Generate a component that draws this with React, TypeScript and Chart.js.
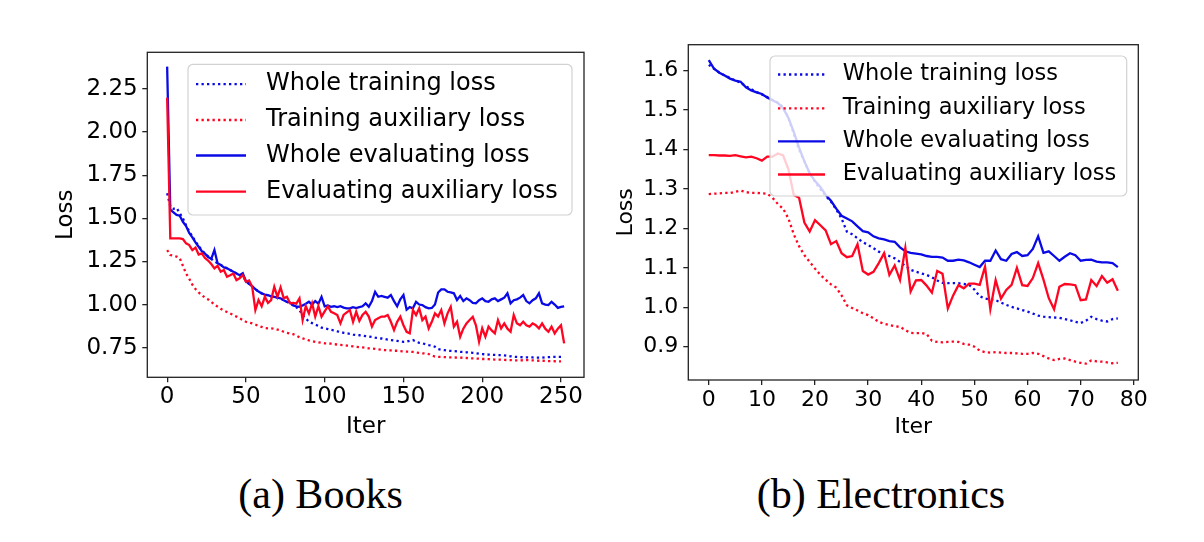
import React, { useEffect, useRef } from "react";
import { Chart, registerables } from "chart.js";

Chart.register(...registerables);
Chart.defaults.font.family = "'DejaVu Sans', sans-serif";

const BLUE = "#0a0ae6";
const RED = "#ff0522";
const AXIS = "#222222";

const seriesLabels = [
  "Whole training loss",
  "Training auxiliary loss",
  "Whole evaluating loss",
  "Evaluating auxiliary loss",
];

// ---- (a) Books: evaluation logged every 2 iters up to 252, training up to 250
const booksEvalIter = Array.from({ length: 127 }, (_, k) => k * 2);
const booksTrainIter = Array.from({ length: 126 }, (_, k) => k * 2);

const booksTrainWhole = [
  1.645, 1.57, 1.555, 1.56, 1.53, 1.5, 1.46, 1.425, 1.395, 1.365,
  1.34, 1.315, 1.295, 1.28, 1.265, 1.25, 1.24, 1.23, 1.22, 1.21,
  1.2, 1.19, 1.18, 1.17, 1.16, 1.14, 1.12, 1.105, 1.09, 1.075,
  1.065, 1.058, 1.052, 1.048, 1.044, 1.04, 1.035, 1.025, 1.015, 1.008,
  0.995, 0.985, 0.968, 0.939, 0.92, 0.9, 0.892, 0.884, 0.876, 0.866,
  0.862, 0.858, 0.853, 0.85, 0.845, 0.842, 0.836, 0.833, 0.83, 0.826,
  0.823, 0.822, 0.82, 0.817, 0.815, 0.812, 0.808, 0.806, 0.803, 0.8,
  0.796, 0.794, 0.792, 0.789, 0.786, 0.784, 0.785, 0.79, 0.794, 0.785,
  0.778, 0.775, 0.77, 0.765, 0.762, 0.755, 0.742, 0.738, 0.735, 0.732,
  0.731, 0.73, 0.728, 0.726, 0.725, 0.723, 0.721, 0.72, 0.718, 0.715,
  0.713, 0.711, 0.71, 0.709, 0.708, 0.707, 0.707, 0.705, 0.703, 0.7,
  0.697, 0.696, 0.695, 0.694, 0.694, 0.693, 0.693, 0.692, 0.692, 0.692,
  0.694, 0.695, 0.696, 0.697, 0.697, 0.697,
];

const booksTrainAux = [
  1.316, 1.287, 1.283, 1.278, 1.268, 1.225, 1.18, 1.15, 1.115, 1.09,
  1.07, 1.055, 1.04, 1.03, 1.015, 1.0, 0.988, 0.975, 0.965, 0.957,
  0.948, 0.939, 0.93, 0.92, 0.91, 0.9, 0.895, 0.891, 0.884, 0.876,
  0.87, 0.864, 0.862, 0.862, 0.86, 0.855, 0.85, 0.842, 0.836, 0.832,
  0.828, 0.82, 0.81, 0.804, 0.798, 0.792, 0.788, 0.784, 0.781, 0.778,
  0.775, 0.775, 0.773, 0.77, 0.768, 0.766, 0.764, 0.762, 0.76, 0.757,
  0.755, 0.753, 0.751, 0.749, 0.746, 0.745, 0.743, 0.74, 0.738, 0.736,
  0.735, 0.734, 0.732, 0.732, 0.73, 0.728, 0.727, 0.726, 0.725, 0.722,
  0.72, 0.717, 0.716, 0.713, 0.705, 0.698, 0.697, 0.696, 0.695, 0.694,
  0.693, 0.693, 0.692, 0.692, 0.691, 0.69, 0.688, 0.688, 0.687, 0.686,
  0.684, 0.684, 0.683, 0.682, 0.681, 0.68, 0.68, 0.679, 0.678, 0.678,
  0.677, 0.676, 0.676, 0.677, 0.678, 0.677, 0.676, 0.675, 0.674, 0.674,
  0.673, 0.672, 0.672, 0.671, 0.671, 0.67,
];

const booksEvalWhole = [
  2.38, 1.55, 1.535, 1.52, 1.515, 1.48, 1.455, 1.415, 1.39, 1.36,
  1.335, 1.31, 1.295, 1.275, 1.265, 1.316, 1.24, 1.23, 1.215, 1.21,
  1.2, 1.19, 1.18, 1.17, 1.182, 1.135, 1.12, 1.105, 1.09, 1.075,
  1.065, 1.058, 1.055, 1.048, 1.045, 1.04, 1.036, 1.025, 1.016, 1.012,
  0.995, 0.99, 0.987, 0.995, 1.005, 1.016, 1.0, 1.02, 1.005, 1.045,
  0.99, 0.995, 0.987, 0.99, 0.985, 0.99, 0.982, 0.978, 0.978, 0.985,
  0.98, 0.985, 0.99, 1.007, 0.987, 1.02, 1.074, 1.045, 1.05, 1.045,
  1.04, 1.055, 1.02, 0.99, 1.03, 1.055, 0.97, 0.985, 0.978, 1.016,
  1.0, 0.997, 0.985, 0.978, 0.98, 1.0, 1.07, 1.088, 1.088, 1.074,
  1.07, 1.065, 1.026, 1.05, 1.02, 1.036, 1.025, 1.01, 1.007, 1.025,
  1.036, 1.02, 1.016, 1.03, 1.036, 1.02, 1.03, 1.04, 1.065, 1.007,
  1.025, 1.03, 1.04, 1.055, 1.02, 1.007, 1.025, 1.036, 1.065, 1.007,
  1.0, 0.997, 1.016, 1.0, 0.981, 0.987, 0.99,
];

const booksEvalAux = [
  2.2, 1.384, 1.384, 1.384, 1.384, 1.38, 1.355, 1.345, 1.316, 1.33,
  1.29, 1.297, 1.27, 1.255, 1.235, 1.21, 1.225, 1.19, 1.2, 1.161,
  1.17, 1.18, 1.142, 1.152, 1.171, 1.132, 1.14, 1.103, 0.968, 1.026,
  0.99, 1.045, 1.01, 1.026, 1.103, 1.045, 1.1, 1.036, 1.045, 1.007,
  1.01, 1.005, 1.036, 0.91, 0.99, 0.948, 1.007, 0.93, 0.99, 0.93,
  0.96, 0.99, 0.958, 0.95, 0.939, 0.891, 0.94, 0.955, 0.968, 0.9,
  0.958, 0.905, 0.94, 0.958, 0.93, 0.872, 0.91, 0.92, 0.93, 0.93,
  0.939, 0.9, 0.852, 0.9, 0.93, 0.88, 0.842, 0.833, 0.968, 0.939,
  0.978, 0.91, 0.93, 0.862, 0.9, 0.949, 0.93, 0.968, 0.891, 0.949,
  0.987, 0.872, 0.9, 0.813, 0.86, 0.891, 0.91, 0.929, 0.88, 0.784,
  0.862, 0.813, 0.872, 0.85, 0.833, 0.91, 0.862, 0.891, 0.86, 0.842,
  0.939, 0.891, 0.88, 0.9, 0.88, 0.872, 0.891, 0.88, 0.862, 0.891,
  0.86, 0.842, 0.872, 0.833, 0.86, 0.88, 0.775,
];

const booksXTicks = [0, 50, 100, 150, 200, 250];
const booksYTicks = [0.75, 1.0, 1.25, 1.5, 1.75, 2.0, 2.25];

// ---- (b) Electronics: one value per iteration, 0..77
const elecIter = Array.from({ length: 78 }, (_, k) => k);

const elecTrainWhole = [
  1.615, 1.605, 1.595, 1.588, 1.582, 1.575, 1.57, 1.56, 1.553, 1.546,
  1.54, 1.533, 1.526, 1.519, 1.508, 1.48, 1.44, 1.4, 1.37, 1.34,
  1.318, 1.3, 1.283, 1.268, 1.248, 1.225, 1.192, 1.185, 1.175, 1.165,
  1.158, 1.15, 1.141, 1.135, 1.13, 1.124, 1.115, 1.105, 1.095, 1.09,
  1.086, 1.082, 1.076, 1.068, 1.062, 1.061, 1.061, 1.061, 1.059, 1.057,
  1.045, 1.028, 1.022, 1.02, 1.018, 1.012, 1.006, 1.001, 0.997, 0.993,
  0.989, 0.984, 0.979, 0.976, 0.975, 0.974, 0.973, 0.97, 0.967, 0.963,
  0.96, 0.966, 0.976, 0.97, 0.966, 0.964, 0.97, 0.972,
];

const elecTrainAux = [
  1.287, 1.288, 1.289, 1.29, 1.29, 1.293, 1.296, 1.292, 1.29, 1.29,
  1.289, 1.288, 1.278, 1.262, 1.25, 1.225, 1.185, 1.155, 1.132, 1.115,
  1.098, 1.082, 1.07, 1.058, 1.05, 1.03, 1.005, 0.998, 0.992, 0.985,
  0.98, 0.972, 0.963, 0.958, 0.955, 0.952, 0.95, 0.942, 0.935, 0.934,
  0.935, 0.932, 0.915, 0.912, 0.911, 0.912, 0.913, 0.912, 0.907, 0.905,
  0.9, 0.89, 0.886, 0.885, 0.886, 0.885, 0.884, 0.884, 0.883, 0.882,
  0.882, 0.884, 0.882, 0.876, 0.87, 0.866, 0.869, 0.87, 0.866, 0.862,
  0.859, 0.857, 0.865, 0.863, 0.862, 0.86, 0.858, 0.859,
];

const elecEvalWhole = [
  1.627, 1.605, 1.595, 1.588, 1.58, 1.575, 1.572, 1.558, 1.55, 1.545,
  1.541, 1.532, 1.525, 1.518, 1.505, 1.48, 1.445, 1.405, 1.37, 1.34,
  1.32, 1.305, 1.285, 1.27, 1.25, 1.232, 1.225, 1.218, 1.205, 1.193,
  1.19, 1.18, 1.175, 1.172, 1.168, 1.166, 1.152, 1.142, 1.138, 1.136,
  1.134, 1.13, 1.128, 1.128, 1.126, 1.118, 1.118, 1.121, 1.119, 1.114,
  1.108, 1.102, 1.118, 1.118, 1.144, 1.122, 1.118, 1.135, 1.14, 1.13,
  1.132, 1.148, 1.18, 1.138, 1.142, 1.13, 1.118, 1.128, 1.137, 1.132,
  1.118, 1.12, 1.121, 1.116, 1.114, 1.114, 1.112, 1.102,
];

const elecEvalAux = [
  1.386, 1.386, 1.385, 1.385, 1.384, 1.386, 1.383, 1.38, 1.382, 1.378,
  1.372, 1.382, 1.382, 1.39, 1.385, 1.35, 1.285, 1.278, 1.215, 1.192,
  1.221, 1.208, 1.195, 1.16, 1.168, 1.137, 1.127, 1.13, 1.16, 1.092,
  1.083, 1.09, 1.112, 1.137, 1.082, 1.106, 1.069, 1.15, 1.04, 1.068,
  1.069, 1.055, 1.037, 1.092, 1.085, 0.997, 1.03, 1.056, 1.048, 1.06,
  1.06, 1.057, 1.103, 0.995, 1.069, 1.022, 1.044, 1.057, 1.1, 1.056,
  1.054, 1.074, 1.112, 1.07, 1.023, 0.995, 1.052, 1.059, 1.058, 1.056,
  1.018, 1.02, 1.069, 1.054, 1.079, 1.062, 1.071, 1.042,
];

const elecXTicks = [0, 10, 20, 30, 40, 50, 60, 70, 80];
const elecYTicks = [0.9, 1.0, 1.1, 1.2, 1.3, 1.4, 1.5, 1.6];

type PanelSpec = {
  trainIter: number[];
  evalIter: number[];
  trainWhole: number[];
  trainAux: number[];
  evalWhole: number[];
  evalAux: number[];
  xRange: [number, number];
  yRange: [number, number];
  xTicks: number[];
  yTicks: number[];
  yDecimals: number;
  width: number;
  height: number;
  padTop: number;
  padRight: number;
  yAxisWidth: number;
  xAxisHeight: number;
  fontSize: number;
  xTickPad: number;
  yTickPad: number;
  xTitlePad: number;
  yTitlePad: number;
  legend: {
    x: number;
    y: number;
    w: number;
    h: number;
    rows: number[];
    hx0: number;
    hx1: number;
    tx: number;
    size: number;
  };
};

const pts = (xs: number[], ys: number[]) => ys.map((y, k) => ({ x: xs[k], y }));

const framePlugin = {
  id: "frame",
  afterDatasetsDraw(chart: Chart) {
    const { ctx, chartArea: a } = chart;
    ctx.save();
    ctx.strokeStyle = AXIS;
    ctx.lineWidth = 1.3;
    ctx.strokeRect(a.left, a.top, a.right - a.left, a.bottom - a.top);
    ctx.restore();
  },
};

const makeLegend = (o: PanelSpec["legend"]) => ({
  id: "boxLegend",
  afterDatasetsDraw(chart: Chart) {
    const ctx = chart.ctx;
    ctx.save();
    ctx.beginPath();
    ctx.roundRect(o.x, o.y, o.w, o.h, 5);
    ctx.fillStyle = "rgba(255,255,255,0.8)";
    ctx.fill();
    ctx.strokeStyle = "#d2d2d2";
    ctx.lineWidth = 1.2;
    ctx.stroke();
    chart.data.datasets.forEach((ds: any, i: number) => {
      const y = o.rows[i];
      ctx.beginPath();
      ctx.setLineDash(ds.borderDash || []);
      ctx.strokeStyle = ds.borderColor;
      ctx.lineWidth = 2.3;
      ctx.moveTo(o.hx0, y);
      ctx.lineTo(o.hx1, y);
      ctx.stroke();
      ctx.setLineDash([]);
      ctx.fillStyle = "#000";
      ctx.font = `${o.size}px 'DejaVu Sans'`;
      ctx.textBaseline = "middle";
      ctx.textAlign = "left";
      ctx.fillText(ds.label, o.tx, y);
    });
    ctx.restore();
  },
});

const Panel: React.FC<{ spec: PanelSpec; left: number }> = ({ spec, left }) => {
  const canvas = useRef<HTMLCanvasElement>(null);

  useEffect(() => {
    const s = spec;
    const tickFont = { family: "'DejaVu Sans'", size: s.fontSize, lineHeight: 1.2 };
    const grid = {
      drawOnChartArea: false,
      drawTicks: true,
      tickLength: 5,
      color: AXIS,
      lineWidth: 1.3,
    };
    const chart = new Chart(canvas.current!.getContext("2d")!, {
      type: "line",
      data: {
        datasets: [
          {
            label: seriesLabels[0],
            data: pts(s.trainIter, s.trainWhole),
            borderColor: BLUE,
            borderDash: [2.3, 3.2],
            order: 3,
          },
          {
            label: seriesLabels[1],
            data: pts(s.trainIter, s.trainAux),
            borderColor: RED,
            borderDash: [2.3, 3.2],
            order: 2,
          },
          {
            label: seriesLabels[2],
            data: pts(s.evalIter, s.evalWhole),
            borderColor: BLUE,
            order: 1,
          },
          {
            label: seriesLabels[3],
            data: pts(s.evalIter, s.evalAux),
            borderColor: RED,
            order: 0,
          },
        ],
      },
      options: {
        responsive: false,
        animation: false,
        events: [],
        layout: {
          padding: { top: s.padTop, right: s.padRight, left: 0, bottom: 0 },
        },
        elements: {
          point: { radius: 0 },
          line: { borderWidth: 2.3, tension: 0, fill: false, borderCapStyle: "butt" },
        },
        plugins: {
          legend: { display: false },
          tooltip: { enabled: false },
        },
        scales: {
          x: {
            type: "linear",
            min: s.xRange[0],
            max: s.xRange[1],
            afterFit: (scale: any) => {
              scale.height = s.xAxisHeight;
            },
            afterBuildTicks: (scale: any) => {
              scale.ticks = s.xTicks.map((value) => ({ value }));
            },
            grid,
            border: { display: false },
            ticks: {
              color: "#000",
              font: tickFont,
              padding: s.xTickPad,
              maxRotation: 0,
              autoSkip: false,
              callback: (v: any) => String(v),
            },
            title: {
              display: true,
              text: "Iter",
              color: "#000",
              font: tickFont,
              padding: { top: 0, bottom: s.xTitlePad },
            },
          },
          y: {
            type: "linear",
            min: s.yRange[0],
            max: s.yRange[1],
            afterFit: (scale: any) => {
              scale.width = s.yAxisWidth;
            },
            afterBuildTicks: (scale: any) => {
              scale.ticks = s.yTicks.map((value) => ({ value }));
            },
            grid,
            border: { display: false },
            ticks: {
              color: "#000",
              font: tickFont,
              padding: s.yTickPad,
              autoSkip: false,
              callback: (v: any) => Number(v).toFixed(s.yDecimals),
            },
            title: {
              display: true,
              text: "Loss",
              color: "#000",
              font: tickFont,
              padding: { top: s.yTitlePad, bottom: 0 },
            },
          },
        },
      },
      plugins: [framePlugin, makeLegend(s.legend)],
    } as any);

    return () => {
      chart.destroy();
    };
  }, [spec]);

  return (
    <canvas
      ref={canvas}
      width={spec.width}
      height={spec.height}
      style={{ position: "absolute", left, top: 0, display: "block" }}
    />
  );
};

const booksSpec: PanelSpec = {
  trainIter: booksTrainIter,
  evalIter: booksEvalIter,
  trainWhole: booksTrainWhole,
  trainAux: booksTrainAux,
  evalWhole: booksEvalWhole,
  evalAux: booksEvalAux,
  xRange: [-12.6, 264.6],
  yRange: [0.578, 2.463],
  xTicks: booksXTicks,
  yTicks: booksYTicks,
  yDecimals: 2,
  width: 600,
  height: 450,
  padTop: 52.3,
  padRight: 16,
  yAxisWidth: 147.3,
  xAxisHeight: 72.7,
  fontSize: 23,
  xTickPad: 0.5,
  yTickPad: 4.6,
  xTitlePad: 8.8,
  yTitlePad: 52.2,
  legend: {
    x: 188,
    y: 64.3,
    w: 384,
    h: 150.7,
    rows: [84.2, 120, 155.5, 191.7],
    hx0: 196,
    hx1: 246,
    tx: 266,
    size: 24,
  },
};

const elecSpec: PanelSpec = {
  trainIter: elecIter,
  evalIter: elecIter,
  trainWhole: elecTrainWhole,
  trainAux: elecTrainAux,
  evalWhole: elecEvalWhole,
  evalAux: elecEvalAux,
  xRange: [-3.85, 80.85],
  yRange: [0.8155, 1.666],
  xTicks: elecXTicks,
  yTicks: elecYTicks,
  yDecimals: 1,
  width: 604,
  height: 450,
  padTop: 44.7,
  padRight: 65.7,
  yAxisWidth: 88.3,
  xAxisHeight: 70,
  fontSize: 22,
  xTickPad: 1.8,
  yTickPad: 5,
  xTitlePad: 9.4,
  yTitlePad: 12.6,
  legend: {
    x: 170,
    y: 56,
    w: 356.7,
    h: 140,
    rows: [74.5, 108.3, 141.3, 174.5],
    hx0: 178,
    hx1: 225,
    tx: 242.7,
    size: 22.5,
  },
};

const captionStyle: React.CSSProperties = {
  position: "absolute",
  top: 472.8,
  fontFamily: "'Liberation Serif', 'Times New Roman', serif",
  fontSize: 42,
  lineHeight: "42px",
  textAlign: "center",
  color: "#000",
  whiteSpace: "nowrap",
};

export default function App() {
  return (
    <div
      style={{
        position: "fixed",
        left: 0,
        top: 0,
        width: 1204,
        height: 542,
        background: "#fff",
        overflow: "hidden",
      }}
    >
      <Panel spec={booksSpec} left={0} />
      <Panel spec={elecSpec} left={600} />
      <div style={{ ...captionStyle, left: 120.5, width: 400 }}>(a) Books</div>
      <div style={{ ...captionStyle, left: 681, width: 400 }}>(b) Electronics</div>
    </div>
  );
}
